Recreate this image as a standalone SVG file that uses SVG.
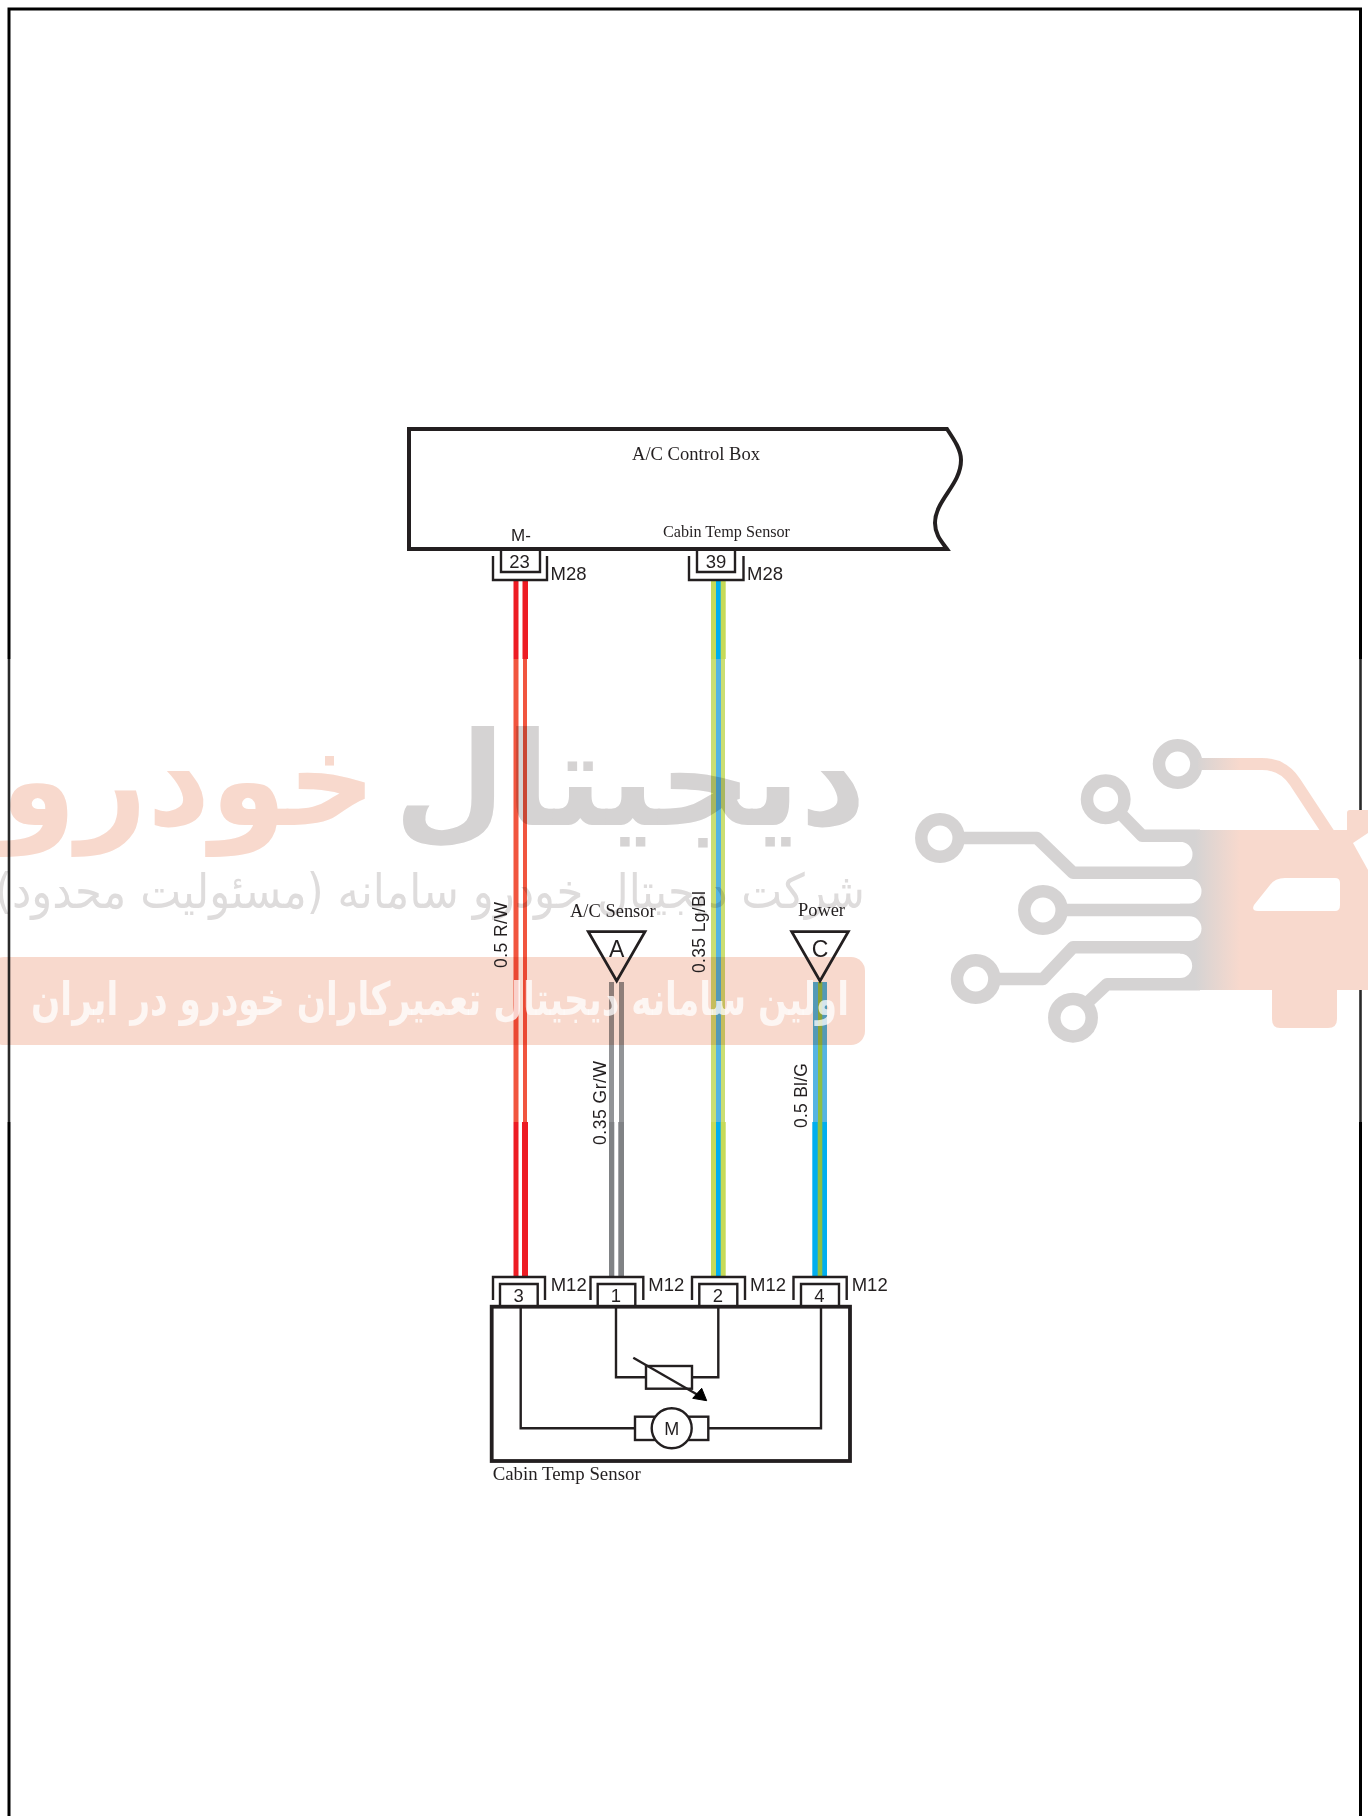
<svg xmlns="http://www.w3.org/2000/svg" width="1368" height="1816" viewBox="0 0 1368 1816">
<style>
.s{font-family:"Liberation Serif","Times New Roman",serif;fill:#231f20}
.a{font-family:"Liberation Sans",Arial,sans-serif;fill:#231f20}
.pin{font-size:18.5px;text-anchor:middle}
.lbl{font-size:18.5px}
.wl{font-size:17.5px}
.ln{fill:none;stroke:#231f20;stroke-width:2.4}
.fa{font-family:"DejaVu Sans",sans-serif}
</style>
<defs>
<linearGradient id="lg" gradientUnits="userSpaceOnUse" x1="1195" y1="0" x2="1240" y2="0">
<stop offset="0" stop-color="#d5d3d3"/><stop offset="1" stop-color="#f8d9cd"/>
</linearGradient>
</defs>
<rect width="1368" height="1816" fill="#fff"/>
<g id="frame" fill="none" stroke="#000">
<path d="M9 659V9H1360.5V659M9 1122V1816M1360.5 1122V1816" stroke-width="3"/>
<path d="M9 659V1122M1360.5 659V1122" stroke="#2a2a2a" stroke-width="2.600"/>
</g>
<g id="connectors">
<g id="wire-rw">
<path d="M513.5 580h5v79h-5zM522.5 580h5.500v79h-5.500zM513.5 1122h5v155h-5zM522 1122h6v155h-6z" fill="#ed1c24"/>
<path d="M513.500 659h5v463h-5zM523 659h4v463h-4z" fill="#f1553f"/>
</g>
<g id="wire-grw">
<path d="M609 1122h5.300v155H609zM618.300 1122h5.700v155h-5.700z" fill="#808285"/>
<path d="M609 982h5v140h-5zM619 982h5v140h-5z" fill="#929497"/>
</g>
<g id="wire-lgbl">
<path d="M711 580h14.700v79H711zM711 1122h14.700v155H711z" fill="#c6da58"/>
<path d="M716 580h4.700v79H716zM716 1122h4.700v155H716z" fill="#00aeef"/>
<path d="M711 659h14v463h-14z" fill="#cbde73"/>
<path d="M716 659h5v463h-5z" fill="#55b4e3"/>
</g>
<g id="wire-blg">
<path d="M812.300 1122h14.700v155h-14.700z" fill="#00aeef"/>
<path d="M817.700 1122h4.600v155h-4.600z" fill="#8dbf45"/>
<path d="M813 982h14v140h-14z" fill="#55b4e3"/>
<path d="M818 982h4.300v140H818z" fill="#8dbf45"/>
</g>
</g>
<g id="watermark" style="mix-blend-mode:multiply">
<rect x="-10" y="957" width="875" height="88" rx="14" fill="#f8d9cd"/>
<text class="fa" x="394" y="825" font-size="130" font-weight="700" fill="#d5d3d3" textLength="472" lengthAdjust="spacingAndGlyphs">دیجیتال</text>
<text class="fa" x="0" y="825" font-size="130" font-weight="700" fill="#f8d9cd" textLength="376" lengthAdjust="spacingAndGlyphs">خودرو</text>
<text class="fa" x="-5" y="908" font-size="48" fill="#dedcdc" textLength="870" lengthAdjust="spacingAndGlyphs">شرکت دیجیتال خودرو سامانه (مسئولیت محدود)</text>
</g>
<text id="watermark-slogan" class="fa" x="31" y="1015" font-size="46" font-weight="700" fill="#fff" fill-opacity=".75" textLength="818" lengthAdjust="spacingAndGlyphs">اولین سامانه دیجیتال تعمیرکاران خودرو در ایران</text>
<g id="watermark-logo">
<path d="M1180 830H1368V990H1337V1019Q1337 1028 1328 1028H1280Q1272 1028 1272 1019V990H1180z" fill="url(#lg)"/>
<path d="M1347 830V813Q1347 810 1350 810H1368V833L1353 843z" fill="#f8d9cd"/>
<g fill="#fff">
<path d="M1368 833L1353 843L1368 870z"/>
<path d="M1150 841.700H1180A12.500 12.500 0 0 1 1180 866.700H1150z"/>
<path d="M1150 878.700H1189A12.500 12.500 0 0 1 1189 903.700H1150z"/>
<path d="M1150 916H1189A12.500 12.500 0 0 1 1189 941H1150z"/>
<path d="M1150 953.600H1180A12.200 12.200 0 0 1 1180 978H1150z"/>
<path d="M1254 905L1270 885Q1275 878 1285 878H1335Q1340 878 1340 883V905Q1340 911 1335 911H1258Q1251 911 1254 905z"/>
</g>
<g fill="none" stroke="#d5d3d3" stroke-width="12.500">
<circle cx="1177.700" cy="764" r="18.700"/>
<circle cx="1105.700" cy="799.300" r="18.700"/>
<circle cx="940" cy="838" r="18.700"/>
<circle cx="1043" cy="910" r="18.700"/>
<circle cx="975.700" cy="979" r="18.700"/>
<circle cx="1073" cy="1017.700" r="18.700"/>
</g>
<g fill="none" stroke="url(#lg)" stroke-width="12.500" stroke-linejoin="round">
<path d="M1198 764H1262Q1283 764 1295 782L1341 852" stroke-width="12"/>
<path d="M1119 812L1142 835.700H1200"/>
<path d="M960 838H1037L1073 872.700H1200"/>
<path d="M1062 910H1200"/>
<path d="M995 979H1043L1073 947.300H1200"/>
<path d="M1087 1003L1107 984.300H1200"/>
</g>
</g>
<g id="node-control-box">
<path d="M409 429H947C955 441 961 450 961 460C961 485 935 500 935 523C935 535 942 542 947 549H409z" fill="none" stroke="#231f20" stroke-width="4"/>
<text class="s" x="632" y="460" font-size="19" textLength="128" lengthAdjust="spacingAndGlyphs">A/C Control Box</text>
<text class="s" x="663" y="537" font-size="16" textLength="127" lengthAdjust="spacingAndGlyphs">Cabin Temp Sensor</text>
<text class="a" x="511" y="541" font-size="17">M-</text>
</g>
<g id="pin-m28-23">
<path class="ln" d="M501 550V572H540V550M493 556V580H547V556"/>
<text class="a pin" x="519.500" y="567.500">23</text>
<text class="a lbl" x="550.500" y="580">M28</text>
</g>
<g id="pin-m28-39">
<path class="ln" d="M697 550V572H735V550M689 556V580H743.500V556"/>
<text class="a pin" x="716" y="567.500">39</text>
<text class="a lbl" x="747" y="580">M28</text>
</g>
<g id="node-ac-sensor">
<path d="M588.300 931.700H645L616.700 981z" fill="none" stroke="#231f20" stroke-width="2.800"/>
<text class="a" x="616.700" y="957" font-size="23" text-anchor="middle">A</text>
<text class="s" x="570" y="917" font-size="18" textLength="85.700" lengthAdjust="spacingAndGlyphs">A/C Sensor</text>
</g>
<g id="node-power">
<path d="M791.700 931.700H848.300L820 981z" fill="none" stroke="#231f20" stroke-width="2.800"/>
<text class="a" x="820" y="957" font-size="23" text-anchor="middle">C</text>
<text class="s" x="798" y="916" font-size="18" textLength="47" lengthAdjust="spacingAndGlyphs">Power</text>
</g>
<g id="wire-labels">
<text class="a wl" transform="translate(506.700 968) rotate(-90)" textLength="66">0.5 R/W</text>
<text class="a wl" transform="translate(705 973) rotate(-90)" textLength="82">0.35 Lg/Bl</text>
<text class="a wl" transform="translate(606 1145) rotate(-90)" textLength="84">0.35 Gr/W</text>
<text class="a wl" transform="translate(806.700 1128) rotate(-90)" textLength="65">0.5 Bl/G</text>
</g>
<g id="node-cabin-sensor">
<rect x="491.700" y="1306.700" width="358.300" height="154.300" fill="none" stroke="#231f20" stroke-width="3.800"/>
<path class="ln" d="M520.700 1307V1428.300H635M708.300 1428.300H821V1307"/>
<rect class="ln" x="635" y="1416.700" width="73.300" height="23.300"/>
<circle cx="671.700" cy="1428.300" r="20" fill="#fff" stroke="#231f20" stroke-width="2.400"/>
<text class="a" x="671.700" y="1434.500" font-size="18" text-anchor="middle">M</text>
<path class="ln" d="M616 1307V1377.300H646M692 1377.300H718.300V1307"/>
<rect class="ln" x="646" y="1366" width="46" height="22.700"/>
<path class="ln" d="M633.300 1357.700L698 1395"/>
<path d="M706.700 1400.700L692.700 1398.300L701.700 1388.300z" fill="#000" stroke="#000"/>
<text class="s" x="492.700" y="1480" font-size="18" textLength="148" lengthAdjust="spacingAndGlyphs">Cabin Temp Sensor</text>
</g>
<g id="pin-m12-3">
<path class="ln" d="M500 1305V1284H537.700V1305M493 1300V1277H545V1300"/>
<text class="a pin" x="518.700" y="1301.500">3</text>
<text class="a lbl" x="550.700" y="1291">M12</text>
</g>
<g id="pin-m12-1">
<path class="ln" d="M597.700 1305V1284H635.300V1305M590.500 1300V1277H643.300V1300"/>
<text class="a pin" x="616" y="1301.500">1</text>
<text class="a lbl" x="648.300" y="1291">M12</text>
</g>
<g id="pin-m12-2">
<path class="ln" d="M699.300 1305V1284H737.300V1305M692 1300V1277H745V1300"/>
<text class="a pin" x="718" y="1301.500">2</text>
<text class="a lbl" x="750" y="1291">M12</text>
</g>
<g id="pin-m12-4">
<path class="ln" d="M801 1305V1284H839V1305M793.500 1300V1277H846.700V1300"/>
<text class="a pin" x="819.300" y="1301.500">4</text>
<text class="a lbl" x="851.700" y="1291">M12</text>
</g>
</svg>
